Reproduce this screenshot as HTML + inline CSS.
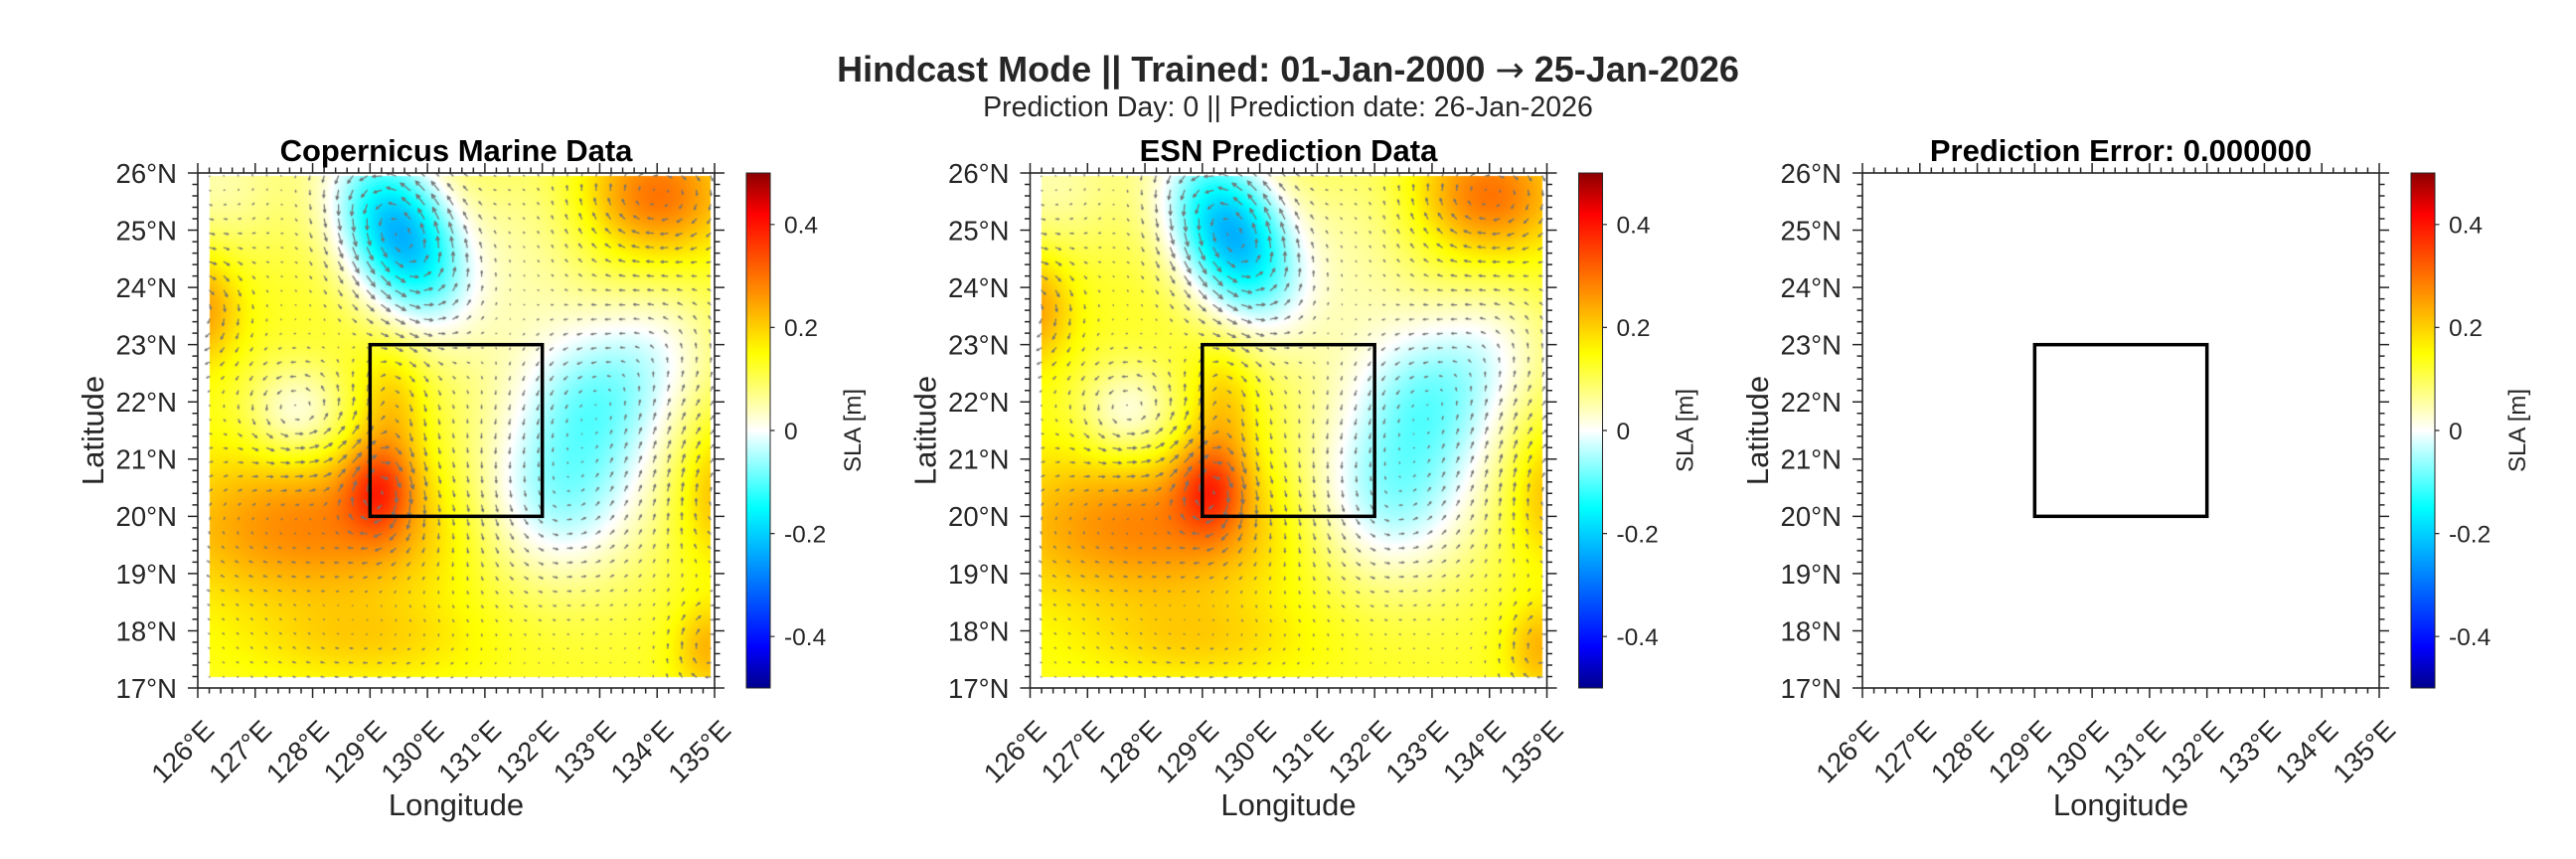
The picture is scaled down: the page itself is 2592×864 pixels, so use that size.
<!DOCTYPE html>
<html><head><meta charset="utf-8"><style>
html,body{margin:0;padding:0;background:#fff;}
#wrap{position:relative;width:2592px;height:864px;overflow:hidden;background:#fff;}
canvas{position:absolute;}
svg{position:absolute;left:0;top:0;}
text{font-family:"Liberation Sans",Arial,Helvetica,sans-serif;fill:#262626;}
.yt,.xt{font-size:27.5px;text-anchor:end;}
.st{font-size:31px;font-weight:bold;text-anchor:middle;fill:#000;}
.lab{font-size:31px;text-anchor:middle;}
.ct{font-size:24.5px;}
.cl{font-size:24px;text-anchor:middle;}
.tt{font-size:36px;font-weight:bold;text-anchor:middle;}
.sub{font-size:28.5px;text-anchor:middle;}
</style></head><body><div id="wrap">
<canvas id="c1" width="520" height="518" style="left:199px;top:174px"></canvas>
<canvas id="c2" width="520" height="518" style="left:1036px;top:174px"></canvas>
<svg width="2592" height="864" xmlns="http://www.w3.org/2000/svg">
<defs><linearGradient id="cb" x1="0" y1="0" x2="0" y2="1">
<stop offset="0" stop-color="rgb(140,0,0)"/><stop offset="0.08" stop-color="rgb(255,0,0)"/><stop offset="0.35" stop-color="rgb(255,255,0)"/><stop offset="0.5" stop-color="rgb(255,255,255)"/><stop offset="0.65" stop-color="rgb(0,255,255)"/><stop offset="0.92" stop-color="rgb(0,0,255)"/><stop offset="1" stop-color="rgb(0,0,140)"/>
</linearGradient></defs>
<text class="tt" x="1296" y="82">Hindcast Mode || Trained: 01-Jan-2000 <tspan font-weight="normal" style="font-family:'DejaVu Sans',sans-serif;font-size:35px">→</tspan> 25-Jan-2026</text>
<text class="sub" x="1296" y="117">Prediction Day: 0 || Prediction date: 26-Jan-2026</text>

<g transform="translate(199,0)">
<text class="st" x="260" y="162">Copernicus Marine Data</text>
<rect x="0" y="174" width="520" height="518" fill="none" stroke="#262626" stroke-width="1.6"/>
<path class="tk" stroke="#262626" stroke-width="1.5" fill="none"/>
<rect x="173.33" y="346.67" width="173.33" height="172.67" fill="none" stroke="#000" stroke-width="3.5"/>
<text class="yt" x="-21" y="183.9">26°N</text>
<text class="yt" x="-21" y="241.5">25°N</text>
<text class="yt" x="-21" y="299">24°N</text>
<text class="yt" x="-21" y="356.6">23°N</text>
<text class="yt" x="-21" y="414.1">22°N</text>
<text class="yt" x="-21" y="471.7">21°N</text>
<text class="yt" x="-21" y="529.2">20°N</text>
<text class="yt" x="-21" y="586.8">19°N</text>
<text class="yt" x="-21" y="644.3">18°N</text>
<text class="yt" x="-21" y="701.9">17°N</text>
<text class="xt" transform="translate(18,736) rotate(-45)">126°E</text>
<text class="xt" transform="translate(75.8,736) rotate(-45)">127°E</text>
<text class="xt" transform="translate(133.6,736) rotate(-45)">128°E</text>
<text class="xt" transform="translate(191.3,736) rotate(-45)">129°E</text>
<text class="xt" transform="translate(249.1,736) rotate(-45)">130°E</text>
<text class="xt" transform="translate(306.9,736) rotate(-45)">131°E</text>
<text class="xt" transform="translate(364.7,736) rotate(-45)">132°E</text>
<text class="xt" transform="translate(422.4,736) rotate(-45)">133°E</text>
<text class="xt" transform="translate(480.2,736) rotate(-45)">134°E</text>
<text class="xt" transform="translate(538,736) rotate(-45)">135°E</text>
<text class="lab" x="260" y="820">Longitude</text>
<text class="lab" transform="translate(-95,433) rotate(-90)">Latitude</text>
<rect x="552" y="174" width="24" height="518" fill="url(#cb)" stroke="#262626" stroke-width="1"/>
<path d="M576,225.8h4.5M576,329.4h4.5M576,433h4.5M576,536.6h4.5M576,640.2h4.5" stroke="#262626" stroke-width="1.2"/>
<text class="ct" x="590" y="234.6">0.4</text>
<text class="ct" x="590" y="338.2">0.2</text>
<text class="ct" x="590" y="441.8">0</text>
<text class="ct" x="590" y="545.4">-0.2</text>
<text class="ct" x="590" y="649">-0.4</text>
<text class="cl" transform="translate(667,433) rotate(-90)">SLA [m]</text>
</g>

<g transform="translate(1036.5,0)">
<text class="st" x="260" y="162">ESN Prediction Data</text>
<rect x="0" y="174" width="520" height="518" fill="none" stroke="#262626" stroke-width="1.6"/>
<path class="tk" stroke="#262626" stroke-width="1.5" fill="none"/>
<rect x="173.33" y="346.67" width="173.33" height="172.67" fill="none" stroke="#000" stroke-width="3.5"/>
<text class="yt" x="-21" y="183.9">26°N</text>
<text class="yt" x="-21" y="241.5">25°N</text>
<text class="yt" x="-21" y="299">24°N</text>
<text class="yt" x="-21" y="356.6">23°N</text>
<text class="yt" x="-21" y="414.1">22°N</text>
<text class="yt" x="-21" y="471.7">21°N</text>
<text class="yt" x="-21" y="529.2">20°N</text>
<text class="yt" x="-21" y="586.8">19°N</text>
<text class="yt" x="-21" y="644.3">18°N</text>
<text class="yt" x="-21" y="701.9">17°N</text>
<text class="xt" transform="translate(18,736) rotate(-45)">126°E</text>
<text class="xt" transform="translate(75.8,736) rotate(-45)">127°E</text>
<text class="xt" transform="translate(133.6,736) rotate(-45)">128°E</text>
<text class="xt" transform="translate(191.3,736) rotate(-45)">129°E</text>
<text class="xt" transform="translate(249.1,736) rotate(-45)">130°E</text>
<text class="xt" transform="translate(306.9,736) rotate(-45)">131°E</text>
<text class="xt" transform="translate(364.7,736) rotate(-45)">132°E</text>
<text class="xt" transform="translate(422.4,736) rotate(-45)">133°E</text>
<text class="xt" transform="translate(480.2,736) rotate(-45)">134°E</text>
<text class="xt" transform="translate(538,736) rotate(-45)">135°E</text>
<text class="lab" x="260" y="820">Longitude</text>
<text class="lab" transform="translate(-95,433) rotate(-90)">Latitude</text>
<rect x="552" y="174" width="24" height="518" fill="url(#cb)" stroke="#262626" stroke-width="1"/>
<path d="M576,225.8h4.5M576,329.4h4.5M576,433h4.5M576,536.6h4.5M576,640.2h4.5" stroke="#262626" stroke-width="1.2"/>
<text class="ct" x="590" y="234.6">0.4</text>
<text class="ct" x="590" y="338.2">0.2</text>
<text class="ct" x="590" y="441.8">0</text>
<text class="ct" x="590" y="545.4">-0.2</text>
<text class="ct" x="590" y="649">-0.4</text>
<text class="cl" transform="translate(667,433) rotate(-90)">SLA [m]</text>
</g>

<g transform="translate(1874,0)">
<text class="st" x="260" y="162">Prediction Error: 0.000000</text>
<rect x="0" y="174" width="520" height="518" fill="none" stroke="#262626" stroke-width="1.6"/>
<path class="tk" stroke="#262626" stroke-width="1.5" fill="none"/>
<rect x="173.33" y="346.67" width="173.33" height="172.67" fill="none" stroke="#000" stroke-width="3.5"/>
<text class="yt" x="-21" y="183.9">26°N</text>
<text class="yt" x="-21" y="241.5">25°N</text>
<text class="yt" x="-21" y="299">24°N</text>
<text class="yt" x="-21" y="356.6">23°N</text>
<text class="yt" x="-21" y="414.1">22°N</text>
<text class="yt" x="-21" y="471.7">21°N</text>
<text class="yt" x="-21" y="529.2">20°N</text>
<text class="yt" x="-21" y="586.8">19°N</text>
<text class="yt" x="-21" y="644.3">18°N</text>
<text class="yt" x="-21" y="701.9">17°N</text>
<text class="xt" transform="translate(18,736) rotate(-45)">126°E</text>
<text class="xt" transform="translate(75.8,736) rotate(-45)">127°E</text>
<text class="xt" transform="translate(133.6,736) rotate(-45)">128°E</text>
<text class="xt" transform="translate(191.3,736) rotate(-45)">129°E</text>
<text class="xt" transform="translate(249.1,736) rotate(-45)">130°E</text>
<text class="xt" transform="translate(306.9,736) rotate(-45)">131°E</text>
<text class="xt" transform="translate(364.7,736) rotate(-45)">132°E</text>
<text class="xt" transform="translate(422.4,736) rotate(-45)">133°E</text>
<text class="xt" transform="translate(480.2,736) rotate(-45)">134°E</text>
<text class="xt" transform="translate(538,736) rotate(-45)">135°E</text>
<text class="lab" x="260" y="820">Longitude</text>
<text class="lab" transform="translate(-95,433) rotate(-90)">Latitude</text>
<rect x="552" y="174" width="24" height="518" fill="url(#cb)" stroke="#262626" stroke-width="1"/>
<path d="M576,225.8h4.5M576,329.4h4.5M576,433h4.5M576,536.6h4.5M576,640.2h4.5" stroke="#262626" stroke-width="1.2"/>
<text class="ct" x="590" y="234.6">0.4</text>
<text class="ct" x="590" y="338.2">0.2</text>
<text class="ct" x="590" y="441.8">0</text>
<text class="ct" x="590" y="545.4">-0.2</text>
<text class="ct" x="590" y="649">-0.4</text>
<text class="cl" transform="translate(667,433) rotate(-90)">SLA [m]</text>
</g>
</svg>
</div>
<script>
(function(){
  var T=174,W=520,H=518,d='';
  for(var m=0;m<=45;m++){var x=(W*m/45).toFixed(2);var L=(m%5==0)?10:5.5;d+='M'+x+','+T+'v'+(-L)+'M'+x+','+(T+H)+'v'+L;}
  for(var m=0;m<=45;m++){var y=(T+H*m/45).toFixed(2);var L=(m%5==0)?10:5.5;d+='M0,'+y+'h'+(-L)+'M'+W+','+y+'h'+L;}
  var tks=document.querySelectorAll('.tk');for(var i=0;i<tks.length;i++)tks[i].setAttribute('d',d);

  // field model: cx, cy, amp, sx, sy, theta, p   (axis-relative px)
  var B=[
   [203,62,-0.36,66,41,1.12,2],
   [405,228,-0.14,55,55,0,2],
   [358,332,-0.13,60,55,0,2],
   [375,280,-0.07,80,100,0,2],
   [182,318,0.15,24,32,0,2],
   [120,355,0.15,110,55,0,2],
   [170,470,0.06,80,30,0,2],
   [195,235,0.08,25,45,0,2],
   [100,242,-0.12,35,35,0,2],
   [462,22,0.17,50,42,0,2],
   [0,135,0.13,30,40,0,2],
   [522,322,0.10,30,50,0,2],
   [515,478,0.10,25,32,0,2],
   [20,10,-0.08,55,55,0,2],
   [330,70,-0.06,50,80,0,2],
   [470,170,-0.07,45,45,0,2]
  ];
  for(var i=0;i<B.length;i++){B[i].push(Math.cos(B[i][5]),Math.sin(B[i][5]));}
  function eta(x,y){
    var v=0.13;
    for(var i=0;i<B.length;i++){var b=B[i];var dx=x-b[0],dy=y-b[1];
      var u=(dx*b[7]+dy*b[8])/b[3],w=(-dx*b[8]+dy*b[7])/b[4];var r2=u*u+w*w;
      var e=(b[6]==2)?r2:Math.pow(r2,b[6]/2);v+=b[2]*Math.exp(-0.5*e);}
    return v;
  }
  var S=[[-0.5,0,0,140],[-0.42,0,0,255],[-0.15,0,255,255],[0,255,255,255],[0.15,255,255,0],[0.42,255,0,0],[0.5,140,0,0]];
  function cmap(v){
    if(v<=-0.5)return [0,0,140]; if(v>=0.5)return [140,0,0];
    for(var i=0;i<6;i++){if(v<=S[i+1][0]){var t=(v-S[i][0])/(S[i+1][0]-S[i][0]);
      return [S[i][1]+t*(S[i+1][1]-S[i][1]),S[i][2]+t*(S[i+1][2]-S[i][2]),S[i][3]+t*(S[i+1][3]-S[i][3])];}}
    return [140,0,0];
  }
  var c1=document.getElementById('c1'),ctx1=c1.getContext('2d');
  var img=ctx1.createImageData(504,504);
  for(var py=0;py<504;py++){for(var px=0;px<504;px++){
    var c=cmap(eta(12+px+0.5,3+py+0.5));var k=(py*504+px)*4;
    img.data[k]=c[0];img.data[k+1]=c[1];img.data[k+2]=c[2];img.data[k+3]=255;}}
  var pts=[],M=0;
  for(var i=0;i<36;i++)for(var j=0;j<36;j++){
    var x=12+14.4*i,y=3+14.4*j;
    var gx=(eta(x+1,y)-eta(x-1,y))/2,gy=(eta(x,y+1)-eta(x,y-1))/2;
    var vx=gy,vy=-gx;var mm=Math.sqrt(vx*vx+vy*vy);if(mm>M)M=mm;pts.push([x,y,vx,vy]);}
  var s=14/M;
  function draw(ctx){
    ctx.putImageData(img,12,3);
    ctx.strokeStyle='#737373';ctx.lineWidth=1.25;ctx.lineCap='round';
    ctx.beginPath();
    for(var n=0;n<pts.length;n++){var p=pts[n];var x=p[0],y=p[1],ex=x+p[2]*s,ey=y+p[3]*s;
      var len=Math.sqrt((ex-x)*(ex-x)+(ey-y)*(ey-y));
      ctx.moveTo(x,y);ctx.lineTo(ex,ey);
      if(len>1.5){var h=Math.min(0.35*len,4.5),a=Math.atan2(ey-y,ex-x);
        ctx.moveTo(ex,ey);ctx.lineTo(ex-h*Math.cos(a-0.42),ey-h*Math.sin(a-0.42));
        ctx.moveTo(ex,ey);ctx.lineTo(ex-h*Math.cos(a+0.42),ey-h*Math.sin(a+0.42));}}
    ctx.stroke();
  }
  draw(ctx1);
  draw(document.getElementById('c2').getContext('2d'));
})();
</script>
</body></html>
